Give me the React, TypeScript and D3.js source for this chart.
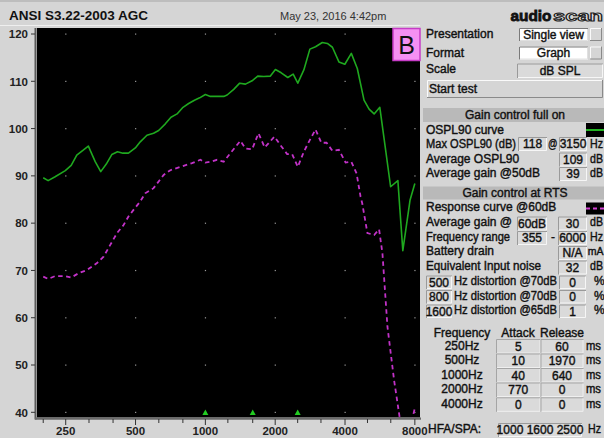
import React from "react";
import * as d3 from "d3";

// ---------- data ----------
const yTicks = [40, 50, 60, 70, 80, 90, 100, 110, 120];
const xLabelFreqs = [250, 500, 1000, 2000, 4000, 8000];
const xMinorFreqs = [200, 250, 315, 400, 500, 630, 800, 1000, 1250, 1600, 2000, 2500, 3150, 4000, 5000, 6300, 8000];
const gridFreqs = [250, 500, 1000, 2000, 4000, 8000];
const hfaFreqs = [1000, 1600, 2500];

const osplFreq = [200, 210, 225, 249, 264, 279, 313, 335, 354, 374, 395, 418, 441, 466, 499, 524, 560, 598, 629, 672, 711, 755, 801, 847, 897, 945, 1000, 1051, 1120, 1200, 1241, 1325, 1406, 1489, 1590, 1682, 1786, 1907, 2004, 2123, 2267, 2391, 2503, 2658, 2822, 2985, 3193, 3357, 3529, 3765, 3993, 4258, 4519, 4830, 5080, 5340, 5650, 5985, 6290, 6760, 7100, 7630, 8000];
const osplDb = [89.6, 89.0, 89.8, 91.1, 92.2, 94.4, 96.3, 93.0, 90.9, 92.5, 94.5, 95.1, 94.8, 94.8, 95.9, 97.2, 98.6, 99.0, 99.6, 101.0, 102.4, 103.1, 104.5, 105.3, 106.0, 106.5, 107.2, 106.8, 106.8, 106.8, 107.1, 108.3, 109.6, 109.4, 110.1, 111.1, 111.0, 111.1, 112.5, 111.8, 110.8, 111.5, 109.6, 112.4, 116.8, 117.3, 118.2, 118.0, 117.2, 114.1, 113.6, 115.9, 112.7, 106.0, 104.1, 103.1, 104.5, 95.5, 87.7, 89.0, 74.2, 84.9, 88.4];

const respFreq = [200, 210, 225, 249, 264, 284, 309, 340, 364, 389, 416, 444, 466, 490, 524, 550, 598, 661, 706, 780, 876, 952, 1000, 1060, 1123, 1200, 1282, 1416, 1489, 1590, 1694, 1803, 1985, 2107, 2252, 2367, 2503, 2658, 2794, 2985, 3161, 3330, 3529, 3765, 4024, 4258, 4487, 4667, 4745, 4995, 5340, 5610, 5800, 6095, 6510, 6900, 7300, 7750, 8000];
const respDb = [68.7, 68.2, 68.8, 68.8, 68.5, 69.4, 70.1, 71.5, 72.9, 75.4, 77.9, 79.6, 81.4, 82.8, 84.6, 86.3, 87.4, 90.2, 91.2, 91.9, 92.7, 93.4, 92.8, 93.0, 93.4, 93.0, 94.8, 97.4, 95.8, 95.6, 99.0, 96.0, 98.3, 96.5, 94.6, 94.6, 91.9, 95.1, 97.2, 99.8, 97.0, 97.0, 95.3, 95.5, 92.8, 93.0, 90.5, 85.6, 84.2, 77.9, 77.5, 78.7, 73.6, 58.1, 46.8, 38.5, 35, 38, 40.9];

const arFreqs = ["250Hz", "500Hz", "1000Hz", "2000Hz", "4000Hz"];
const attackMs = ["5", "10", "40", "770", "0"];
const releaseMs = ["60", "1970", "640", "0", "0"];
const distFreqs = ["500", "800", "1600"];
const distLevels = ["70", "70", "65"];
const distPct = ["0", "0", "1"];

// ---------- layout ----------
const plot = { left: 37, right: 420, top: 28, bottom: 417.5 };
const x = d3.scaleLog().domain([188, 8420]).range([plot.left, plot.right]);
const y = d3.scaleLinear().domain([40, 120]).range([412.3, 34]);

const BG = "#d5d5d5";
const FONT = "'Liberation Sans', Arial, sans-serif";
const TXT = "#111";

const line = d3
  .line<[number, number]>()
  .x((d) => x(d[0]))
  .y((d) => y(d[1]));

const osplPts = osplFreq.map((f, i) => [f, osplDb[i]] as [number, number]);
const respPts = respFreq.map((f, i) => [f, respDb[i]] as [number, number]);

function T(props: any) {
  const { children, tl, ...rest } = props;
  const extra = tl ? { textLength: tl, lengthAdjust: "spacingAndGlyphs" } : {};
  return (
    <text fontFamily={FONT} fontSize={12} fill={TXT} stroke={TXT} strokeWidth={0.4} {...extra} {...rest}>
      {children}
    </text>
  );
}

function Field({ x0, y0, w, h, text, fill = "#dadada", dark = "#9a9a9a", light = "#f6f6f6" }: any) {
  return (
    <g>
      <rect x={x0} y={y0} width={w} height={h} fill={fill} />
      <path d={`M${x0 + 0.5},${y0 + h}V${y0 + 0.5}H${x0 + w}`} stroke={dark} fill="none" />
      <path d={`M${x0 + w - 0.5},${y0 + 1}V${y0 + h - 0.5}H${x0 + 1}`} stroke={light} fill="none" />
      {text !== undefined && (
        <T x={x0 + w / 2} y={y0 + h / 2 + 4.3} textAnchor="middle">
          {text}
        </T>
      )}
    </g>
  );
}

function Raised({ x0, y0, w, h }: any) {
  return (
    <g>
      <rect x={x0} y={y0} width={w} height={h} fill={BG} />
      <path d={`M${x0 + 0.5},${y0 + h}V${y0 + 0.5}H${x0 + w}`} stroke="#fafafa" fill="none" />
      <path d={`M${x0 + w - 0.5},${y0}V${y0 + h - 0.5}H${x0}`} stroke="#8a8a8a" fill="none" />
    </g>
  );
}

function Panel() {
  const rowBase = [349.5, 364, 378.5, 393, 407.8];
  return (
    <g>
      {/* Presentation / Format / Scale */}
      <T x={426} y={38}>Presentation</T>
      <Field x0={519} y0={28} w={69} h={13} text="Single view" fill="#ffffff" dark="#7a7a7a" light="#e0e0e0" />
      <Raised x0={590} y0={28} w={12} h={13} />
      <T x={426} y={56.5}>Format</T>
      <Field x0={519} y0={46.5} w={69} h={13} text="Graph" fill="#ffffff" dark="#7a7a7a" light="#e0e0e0" />
      <Raised x0={590} y0={46.5} w={12} h={13} />
      <T x={426} y={73}>Scale</T>
      <Field x0={517} y0={63.5} w={86} h={14.5} text="dB SPL" />
      <Raised x0={427} y0={80} w={176} h={18} />
      <T x={429} y={93}>Start test</T>

      {/* Gain control full on */}
      <rect x={423} y={108} width={181} height={14} fill="#b9b9b9" />
      <T x={515} y={119.3} textAnchor="middle">Gain control full on</T>
      <T x={426} y={133.5}>OSPL90 curve</T>
      <rect x={586} y={123} width={18} height={14} fill="#000" />
      <line x1={586} x2={604} y1={130} y2={130} stroke="#22b422" strokeWidth={2} />
      <T x={426} y={147.5} tl={90}>Max OSPL90 (dB)</T>
      <Field x0={518} y0={137} w={29} h={14} text="118" />
      <T x={548} y={147.5} tl={9.5}>@</T>
      <Field x0={559} y0={137} w={28} h={14} text="3150" />
      <T x={590} y={147.5} tl={13}>Hz</T>
      <T x={426} y={162.5}>Average OSPL90</T>
      <Field x0={559} y0={152.5} w={28} h={14} text="109" />
      <T x={590} y={162.5} tl={13}>dB</T>
      <T x={426} y={177}>Average gain @50dB</T>
      <Field x0={559} y0={167} w={28} h={14} text="39" />
      <T x={590} y={177} tl={13}>dB</T>

      {/* Gain control at RTS */}
      <rect x={423} y={186.5} width={181} height={13} fill="#b9b9b9" />
      <T x={515} y={197.3} textAnchor="middle">Gain control at RTS</T>
      <T x={426} y={211}>Response curve @60dB</T>
      <rect x={586} y={202.5} width={18} height={12} fill="#000" />
      <line x1={586} x2={604} y1={208.5} y2={208.5} stroke="#d040d0" strokeWidth={2} strokeDasharray="4,3" />
      <T x={426} y={226}>Average gain @</T>
      <Field x0={517} y0={216.5} w={30} h={14} text="60dB" />
      <Field x0={558} y0={216.5} w={29} h={14} text="30" />
      <T x={590} y={226} tl={13}>dB</T>
      <T x={426} y={240.8} tl={84}>Frequency range</T>
      <Field x0={517} y0={231} w={30} h={14} text="355" />
      <T x={551} y={240.8}>-</T>
      <Field x0={558} y0={231} w={29} h={14} text="6000" />
      <T x={590} y={240.8} tl={13}>Hz</T>
      <T x={426} y={255.3}>Battery drain</T>
      <Field x0={558} y0={246} w={29} h={14} text="N/A" />
      <T x={603.5} y={255.3} textAnchor="end" fontSize={10.5}>mA</T>
      <T x={426} y={270} tl={115}>Equivalent Input noise</T>
      <Field x0={558} y0={260.5} w={29} h={14} text="32" />
      <T x={590} y={270} tl={13}>dB</T>
      {distFreqs.map((f, i) => {
        const b = 285 + i * 14.5;
        return (
          <g key={f}>
            <Field x0={426} y0={b - 9.5} w={26} h={13.5} text={f} />
            <T x={454} y={b} tl={103}>{`Hz distortion @${distLevels[i]}dB`}</T>
            <Field x0={559} y0={b - 9.5} w={27} h={13.5} text={distPct[i]} />
            <T x={594} y={b}>%</T>
          </g>
        );
      })}

      {/* Attack / release table */}
      <T x={462} y={337} textAnchor="middle">Frequency</T>
      <T x={518} y={337} textAnchor="middle">Attack</T>
      <T x={562} y={337} textAnchor="middle">Release</T>
      {arFreqs.map((f, i) => (
        <g key={f}>
          <T x={462} y={rowBase[i]} textAnchor="middle">{f}</T>
          <Field x0={496} y0={rowBase[i] - 10.5} w={44.5} h={14.5} text={attackMs[i]} dark="#a5a5a5" light="#efefef" />
          <Field x0={540.5} y0={rowBase[i] - 10.5} w={43} h={14.5} text={releaseMs[i]} dark="#a5a5a5" light="#efefef" />
          <T x={586} y={rowBase[i]} tl={15}>ms</T>
        </g>
      ))}
      <T x={428} y={432.5}>HFA/SPA:</T>
      <Field x0={498} y0={423} w={84} h={14} text={hfaFreqs.join(" ")} />
      <T x={588} y={432.5} tl={13}>Hz</T>
    </g>
  );
}

export default function App() {
  const dotPts: [number, number][] = [];
  gridFreqs.forEach((f) => yTicks.forEach((v) => dotPts.push([f, v])));
  return (
    <svg width={604} height={438} style={{ position: "absolute", left: 0, top: 0, display: "block" }}>
      <rect x={0} y={0} width={604} height={438} fill={BG} />
      <rect x={0} y={0} width={604} height={2} fill="#bdbdbd" />
      <line x1={0} x2={420} y1={25.5} y2={25.5} stroke="#efefef" />
      {/* header */}
      <text x={9} y={20} fontFamily={FONT} fontSize={13.5} fontWeight="bold" fill="#111">
        ANSI S3.22-2003 AGC
      </text>
      <text x={280} y={20} fontFamily={FONT} fontSize={11} fill="#333">
        May 23, 2016 4:42pm
      </text>
      <text x={510.5} y={20.5} fontFamily={FONT} fontSize={15} fontWeight={900} fill="#111" stroke="#111" strokeWidth={0.8} textLength={41} lengthAdjust="spacingAndGlyphs">
        audio
      </text>
      <text x={553} y={20.5} fontFamily={FONT} fontSize={15} fontWeight="bold" fill="#e8e8e8" stroke="#222" strokeWidth={1} textLength={50} lengthAdjust="spacingAndGlyphs">
        scan
      </text>

      {/* plot area */}
      <defs>
        <clipPath id="plotClip">
          <rect x={plot.left} y={plot.top} width={plot.right - plot.left} height={plot.bottom - plot.top} />
        </clipPath>
      </defs>
      <rect x={plot.left} y={plot.top} width={plot.right - plot.left} height={plot.bottom - plot.top} fill="#000" />
      {dotPts.map(([f, v], i) => (
        <rect key={i} x={x(f) - 0.5} y={y(v) - 0.5} width={1.2} height={1.2} fill="#9a9a9a" />
      ))}
      <g clipPath="url(#plotClip)">
        <path d={line(osplPts) || ""} fill="none" stroke="#1fa81f" strokeWidth={1.6} strokeLinejoin="round" />
        <path d={line(respPts) || ""} fill="none" stroke="#c232c8" strokeWidth={1.8} strokeDasharray="4.5,3.5" />
      </g>
      {hfaFreqs.map((f) => (
        <path key={f} d={`M${x(f)},${y(40) - 2.8}l3,5.5h-6z`} fill="#22cc22" />
      ))}

      {/* B box */}
      <rect x={393} y={28.5} width={27} height={32} fill="#f590f3" stroke="#c63cc6" strokeWidth={1.5} />
      <text x={406.5} y={53.5} textAnchor="middle" fontFamily={FONT} fontSize={25} fill="#111">
        B
      </text>

      {/* y axis */}
      <line x1={35.5} x2={35.5} y1={plot.top} y2={plot.bottom + 2} stroke="#5a5a5a" strokeWidth={2} />
      {yTicks.map((v) => (
        <g key={v}>
          <line x1={31} x2={35} y1={y(v)} y2={y(v)} stroke="#333" />
          <text x={28} y={y(v) + 4.3} textAnchor="end" fontFamily={FONT} fontSize={11.5} fontWeight="bold" fill="#222">
            {v}
          </text>
        </g>
      ))}
      {/* x axis */}
      <line x1={plot.left - 2} x2={plot.right + 1} y1={418.7} y2={418.7} stroke="#6a6a6a" strokeWidth={2.2} />
      {xMinorFreqs.map((f) => (
        <line key={f} x1={x(f)} x2={x(f)} y1={419} y2={xLabelFreqs.includes(f) ? 425 : 423} stroke="#333" />
      ))}
      {xLabelFreqs.map((f) => (
        <text key={f} x={x(f)} y={435} textAnchor="middle" fontFamily={FONT} fontSize={11.5} fontWeight="bold" fill="#222">
          {f}
        </text>
      ))}

      <Panel />
    </svg>
  );
}
